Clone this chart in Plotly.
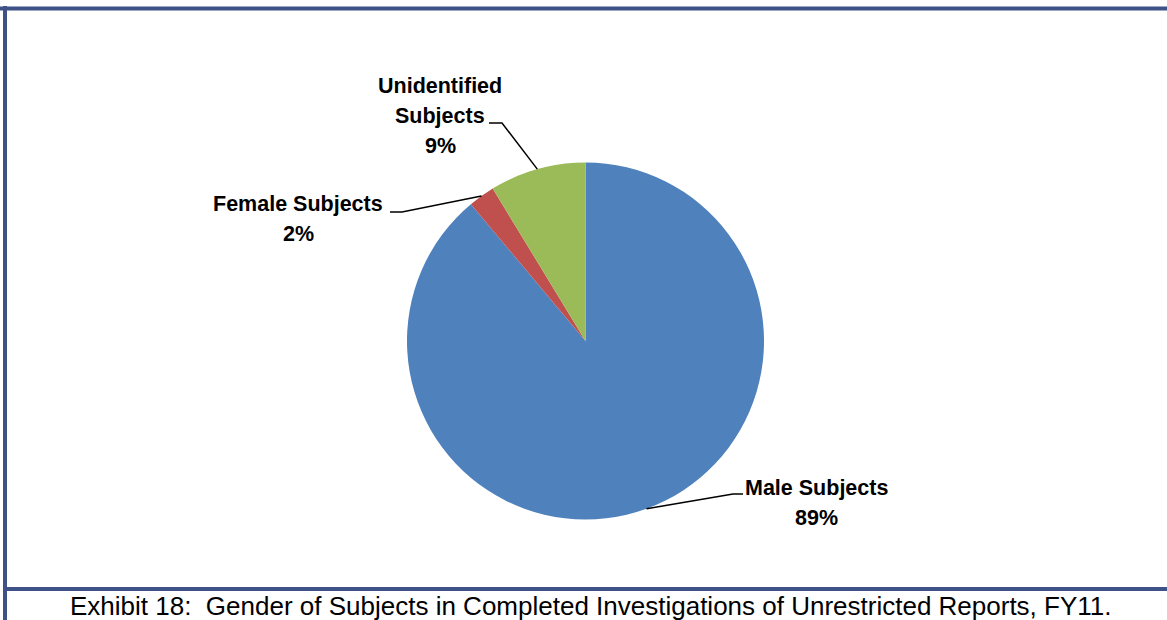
import math
import plotly.graph_objects as go

# share of subjects
labels = ["Male Subjects", "Female Subjects", "Unidentified Subjects"]
values = [88.9, 2.4, 8.7]
colors = ["#4F81BD", "#C0504D", "#9BBB59"]
label_lines = {
    "Male Subjects": ["Male Subjects"],
    "Female Subjects": ["Female Subjects"],
    "Unidentified Subjects": ["Unidentified", "Subjects"],
}
caption = "Exhibit 18:  Gender of Subjects in Completed Investigations of Unrestricted Reports, FY11."

W, H = 1167, 620
cx, cy, r = 585.5, 341, 178.5  # pie centre / radius in pixels

fig = go.Figure()

fig.add_trace(go.Pie(
    labels=labels,
    values=values,
    marker=dict(colors=colors, line=dict(width=0)),
    sort=False,
    direction="clockwise",
    rotation=0,
    textinfo="none",
    hoverinfo="label+percent",
    showlegend=False,
    domain=dict(x=[(cx - r) / W, (cx + r) / W], y=[(H - cy - r) / H, (H - cy + r) / H]),
))

# invisible pixel axes for the leader lines and frame
fig.update_layout(
    xaxis=dict(range=[0, W], visible=False, fixedrange=True),
    yaxis=dict(range=[H, 0], visible=False, fixedrange=True),
)

label_font = dict(family="Liberation Sans Narrow, Arial Narrow, Liberation Sans, Arial", size=21.5, color="black")
line_gap = 30

# where each label sits: (text centre x, first line y, elbow x, elbow y, horizontal end x)
label_pos = {
    "Unidentified Subjects": (440, 86, 502, 123, 489),
    "Female Subjects": (298, 204, 402, 212, 390),
    "Male Subjects": (816, 488, 733, 494, 743),
}

total = sum(values)
start = 0.0
for lab, v in zip(labels, values):
    mid = (start + v / 2) / total * 2 * math.pi
    start += v
    ex = cx + r * math.sin(mid)
    ey = cy - r * math.cos(mid)
    tx, ty, bx, by, hx = label_pos[lab]
    pct = round(v / total * 100)
    for i, txt in enumerate(label_lines[lab] + [f"{pct}%"]):
        fig.add_annotation(
            x=tx, y=ty + i * line_gap, xref="x", yref="y",
            text=f"<b>{txt}</b>",
            showarrow=False, font=label_font,
            xanchor="center", yanchor="middle",
        )
    fig.add_shape(type="path", xref="x", yref="y",
                  path=f"M {ex:.1f} {ey:.1f} L {bx} {by} L {hx} {by}",
                  line=dict(color="black", width=1.5))

frame = "#3F5287"
fig.add_shape(type="line", xref="x", yref="y", x0=0, x1=W, y0=8.5, y1=8.5, line=dict(color=frame, width=4))
fig.add_shape(type="line", xref="x", yref="y", x0=5, x1=5, y0=6, y1=H, line=dict(color=frame, width=4))
fig.add_shape(type="line", xref="x", yref="y", x0=5, x1=W, y0=589, y1=589, line=dict(color=frame, width=4))

fig.add_annotation(
    x=591, y=606, xref="x", yref="y", text=caption, showarrow=False,
    font=dict(family="Liberation Sans, Arial", size=26, color="black"),
    xanchor="center", yanchor="middle",
)

fig.update_layout(
    width=W, height=H,
    margin=dict(l=0, r=0, t=0, b=0),
    paper_bgcolor="white",
    plot_bgcolor="white",
)

fig.write_html(
    "out.html",
    config={"displayModeBar": False},
    post_script="document.body.style.margin='0';document.body.style.overflow='hidden';",
)
